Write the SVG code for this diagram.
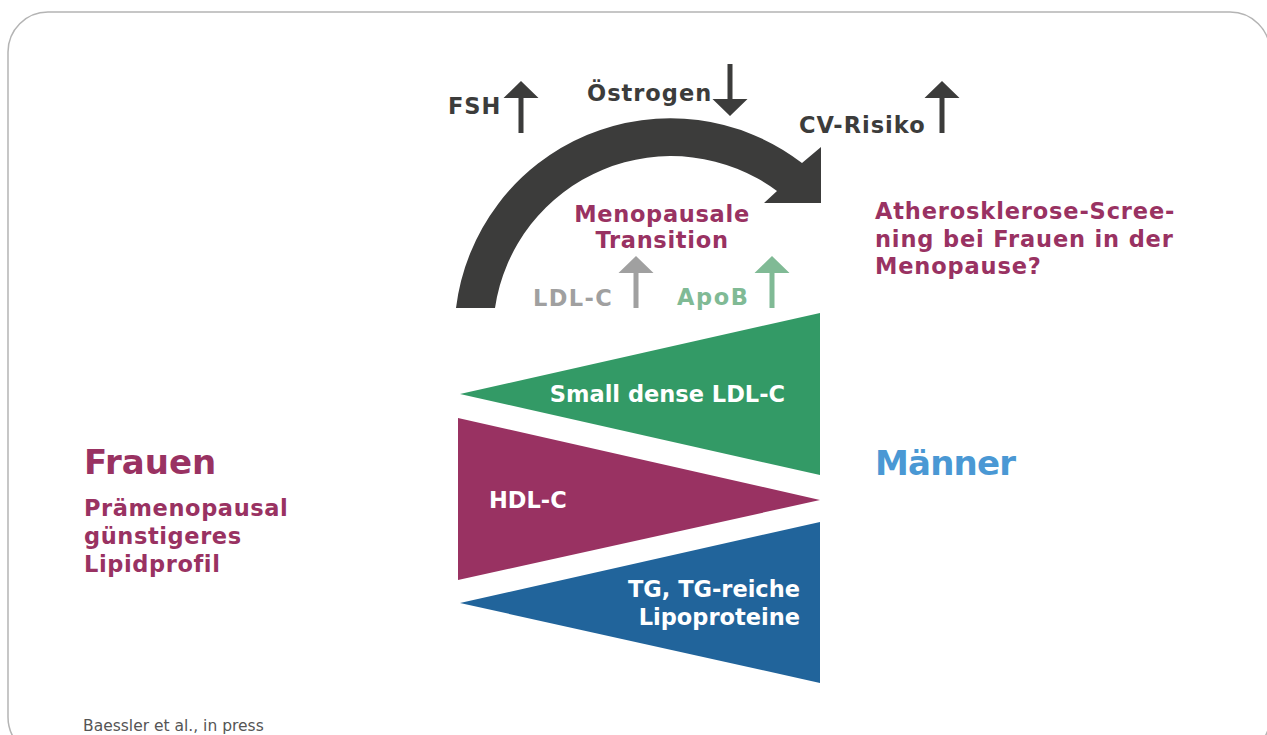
<svg xmlns="http://www.w3.org/2000/svg" width="1267" height="735" viewBox="0 0 1267 735">
  <style>
    text { font-family: "DejaVu Sans", "Liberation Sans", sans-serif; font-weight: 700; }
    .dark { fill: #3c3c3b; letter-spacing: 1px; }
    .plum { fill: #993262; }
    .white { fill: #ffffff; }
    .lbl { font-size: 22.5px; }
    .big { font-size: 34px; }
    .ind-dark { fill: #3c3c3b; }
    .ind-gray { fill: #a0a0a0; }
    .ind-green { fill: #80ba95; }
  </style>
  <defs>
    <!-- upward indicator arrow: shaft + head, origin at the tip -->
    <path id="upArrow" d="M -2.5 17 L -17.5 17 L 0 0 L 17.5 17 L 2.5 17 L 2.5 52 L -2.5 52 Z"/>
  </defs>

  <rect width="1267" height="735" fill="#ffffff"/>

  <!-- outer frame -->
  <g id="frame">
    <rect x="8" y="12" width="1262" height="745" rx="40" ry="40" fill="none" stroke="#b4b4b4" stroke-width="1.5"/>
  </g>

  <!-- curved transition arrow and marker arrows -->
  <g id="connectors">
    <path id="transition-arc" fill="#3c3c3b"
          d="M 456 308 A 216 216 0 0 1 802 163 L 821 147 L 821 203 L 764 203 L 777 191 A 178 178 0 0 0 495 308 Z"/>
    <use href="#upArrow" x="521" y="81" class="ind-dark"/>
    <use href="#upArrow" x="730" y="64" transform="rotate(180 730 90)" class="ind-dark"/>
    <use href="#upArrow" x="942" y="81" class="ind-dark"/>
    <use href="#upArrow" x="636" y="256" class="ind-gray"/>
    <use href="#upArrow" x="772" y="256" class="ind-green"/>
  </g>

  <!-- hormone / risk labels -->
  <g id="fsh"><text x="448" y="114" class="lbl dark">FSH</text></g>
  <g id="oestrogen"><text x="587" y="101" class="lbl dark">Östrogen</text></g>
  <g id="cv-risiko"><text x="799" y="133" class="lbl dark">CV-Risiko</text></g>

  <g id="transition">
    <text x="662" y="222" text-anchor="middle" class="lbl plum" letter-spacing="0.7">Menopausale</text>
    <text x="662" y="248" text-anchor="middle" class="lbl plum" letter-spacing="0.7">Transition</text>
  </g>
  <g id="ldl-c"><text x="533" y="306" class="lbl" fill="#a0a0a0" letter-spacing="1.4">LDL-C</text></g>
  <g id="apob"><text x="677" y="305" class="lbl" fill="#80ba95" letter-spacing="1.6">ApoB</text></g>

  <g id="screening" letter-spacing="0.85">
    <text x="875" y="219" class="lbl plum">Atherosklerose-Scree-</text>
    <text x="875" y="247" class="lbl plum">ning bei Frauen in der</text>
    <text x="875" y="274" class="lbl plum">Menopause?</text>
  </g>

  <!-- lipid wedges -->
  <g id="small-dense-ldl">
    <polygon points="460,394 820,313 820,475" fill="#339a66"/>
    <text x="785" y="402" text-anchor="end" class="lbl white">Small dense LDL-C</text>
  </g>
  <g id="hdl-c">
    <polygon points="458,418 820,500 458,580" fill="#993262"/>
    <text x="489" y="508" class="lbl white">HDL-C</text>
  </g>
  <g id="tg">
    <polygon points="460,603 820,522 820,683" fill="#21649b"/>
    <text x="800" y="597" text-anchor="end" class="lbl white">TG, TG-reiche</text>
    <text x="800" y="625" text-anchor="end" class="lbl white">Lipoproteine</text>
  </g>

  <!-- side labels -->
  <g id="frauen">
    <text x="84" y="474" class="big plum">Frauen</text>
    <text x="84" y="516" class="lbl plum" letter-spacing="0.6">Prämenopausal</text>
    <text x="84" y="544" class="lbl plum" letter-spacing="0.6">günstigeres</text>
    <text x="84" y="572" class="lbl plum" letter-spacing="0.6">Lipidprofil</text>
  </g>
  <g id="maenner">
    <text x="875" y="475" class="big" fill="#4a98d4" letter-spacing="-0.8">Männer</text>
  </g>

  <g id="source">
    <text x="83" y="731" font-size="15.5" style="font-weight:400" fill="#555555">Baessler et al., in press</text>
  </g>
</svg>
